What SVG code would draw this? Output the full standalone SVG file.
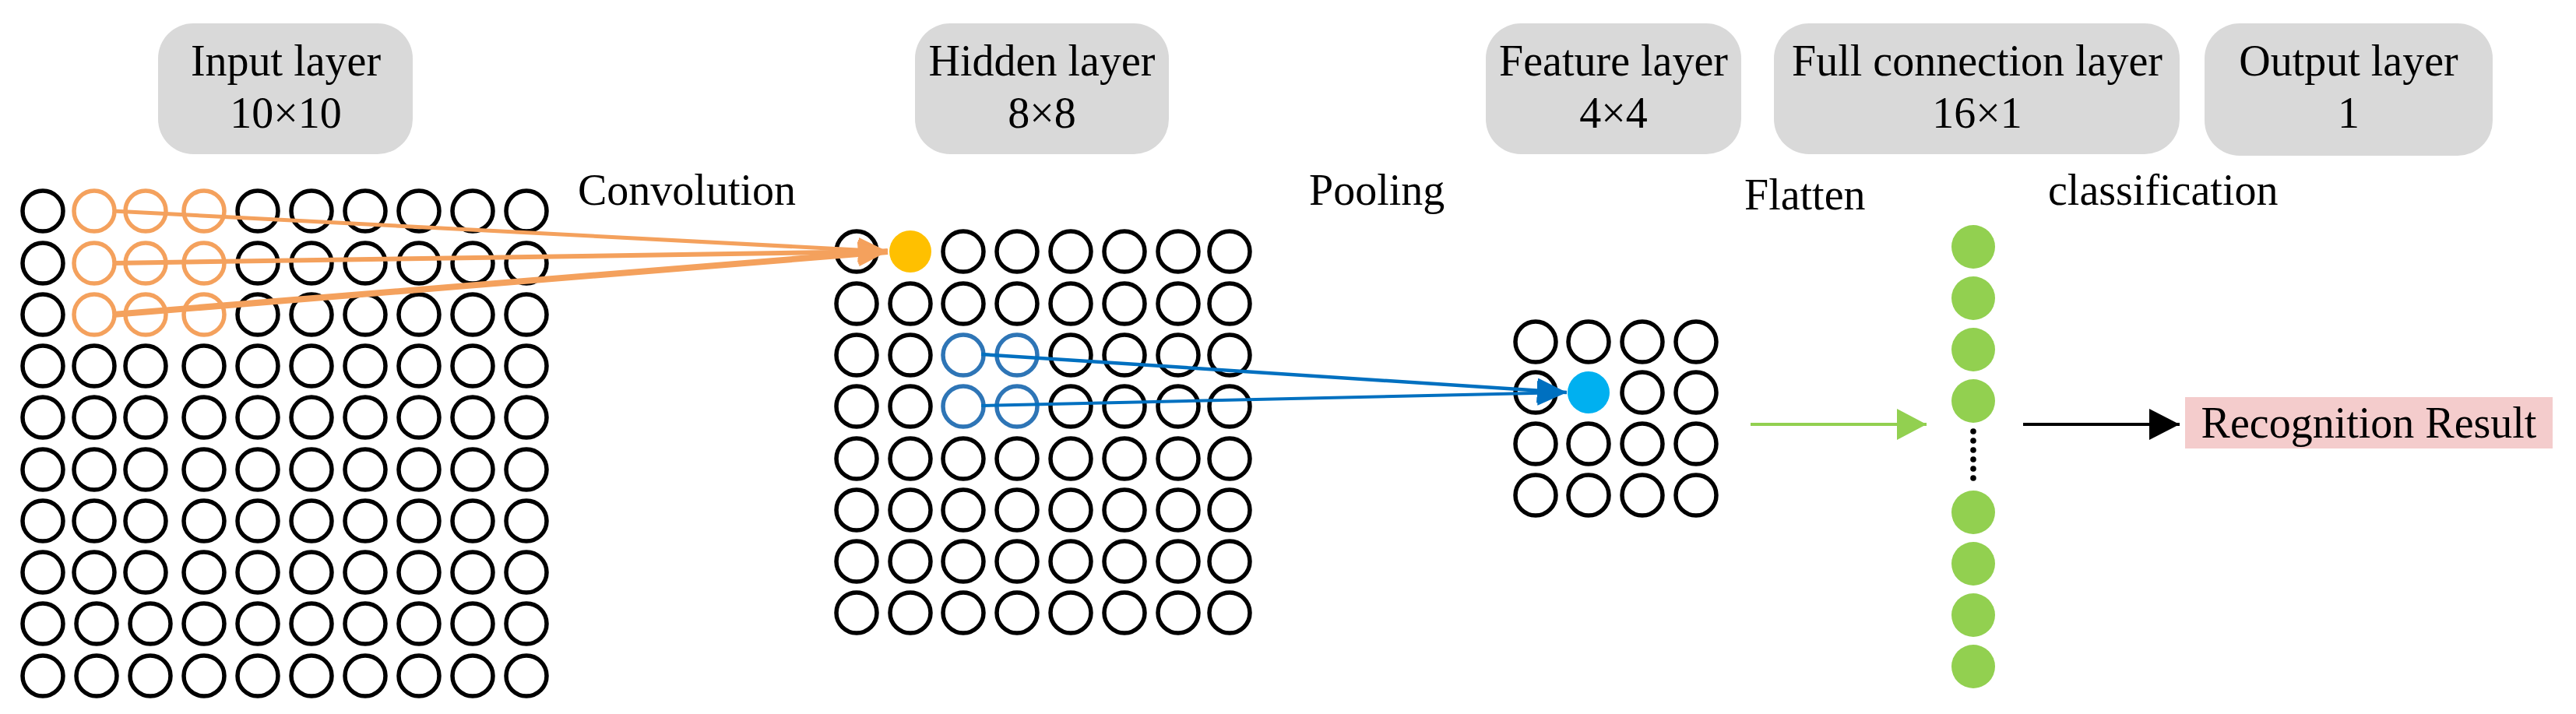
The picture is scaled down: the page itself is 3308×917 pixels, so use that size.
<svg xmlns="http://www.w3.org/2000/svg" width="3308" height="917" viewBox="0 0 3308 917">
<style>
.hdr{fill:#D9D9D9}
.t{font-family:"Liberation Serif","Times New Roman",serif;font-size:56px;fill:#000}
.c{fill:none;stroke:#000;stroke-width:5.5}
.co{fill:none;stroke:#F4A15D;stroke-width:5.5}
.cb{fill:none;stroke:#2E75B6;stroke-width:5.5}
.g{fill:#92D050}
</style>
<defs>
<marker id="ao" markerUnits="userSpaceOnUse" markerWidth="40" markerHeight="32" refX="38" refY="16" orient="auto"><path d="M0,0 L38,16 L0,32 Z" fill="#F4A15D"/></marker>
<marker id="ab" markerUnits="userSpaceOnUse" markerWidth="40" markerHeight="32" refX="38" refY="16" orient="auto"><path d="M0,0 L38,16 L0,32 Z" fill="#0070C0"/></marker>
<marker id="ag" markerUnits="userSpaceOnUse" markerWidth="40" markerHeight="40" refX="38" refY="20" orient="auto"><path d="M0,0 L38,20 L0,40 Z" fill="#92D050"/></marker>
<marker id="ak" markerUnits="userSpaceOnUse" markerWidth="40" markerHeight="40" refX="39" refY="20" orient="auto"><path d="M0,0 L39,20 L0,40 Z" fill="#000"/></marker>
</defs>

<g id="hdr-input"><rect class="hdr" x="203" y="30" width="327" height="168" rx="45"/><text class="t" x="367" y="97" text-anchor="middle">Input layer</text><text class="t" x="367" y="164" text-anchor="middle">10×10</text></g>
<g id="hdr-hidden"><rect class="hdr" x="1175" y="30" width="326" height="168" rx="45"/><text class="t" x="1338" y="97" text-anchor="middle">Hidden layer</text><text class="t" x="1338" y="164" text-anchor="middle">8×8</text></g>
<g id="hdr-feature"><rect class="hdr" x="1908" y="30" width="328" height="168" rx="45"/><text class="t" x="2072" y="97" text-anchor="middle">Feature layer</text><text class="t" x="2072" y="164" text-anchor="middle">4×4</text></g>
<g id="hdr-full"><rect class="hdr" x="2278" y="30" width="521" height="168" rx="45"/><text class="t" x="2539" y="97" text-anchor="middle">Full connection layer</text><text class="t" x="2539" y="164" text-anchor="middle">16×1</text></g>
<g id="hdr-output"><rect class="hdr" x="2831" y="30" width="370" height="170" rx="45"/><text class="t" x="3016" y="97" text-anchor="middle">Output layer</text><text class="t" x="3016" y="164" text-anchor="middle">1</text></g>

<g id="labels">
<text class="t" x="742" y="263">Convolution</text>
<text class="t" x="1681" y="263">Pooling</text>
<text class="t" x="2240" y="269">Flatten</text>
<text class="t" x="2630" y="263">classification</text>
</g>

<g id="input-grid">
<circle class="c" cx="55" cy="271" r="26"/><circle class="co" cx="121" cy="271" r="26"/><circle class="co" cx="187" cy="271" r="26"/><circle class="co" cx="262" cy="271" r="26"/><circle class="c" cx="331" cy="271" r="26"/><circle class="c" cx="400" cy="271" r="26"/><circle class="c" cx="469" cy="271" r="26"/><circle class="c" cx="538" cy="271" r="26"/><circle class="c" cx="607" cy="271" r="26"/><circle class="c" cx="676" cy="271" r="26"/>
<circle class="c" cx="55" cy="338" r="26"/><circle class="co" cx="121" cy="338" r="26"/><circle class="co" cx="187" cy="338" r="26"/><circle class="co" cx="262" cy="338" r="26"/><circle class="c" cx="331" cy="338" r="26"/><circle class="c" cx="400" cy="338" r="26"/><circle class="c" cx="469" cy="338" r="26"/><circle class="c" cx="538" cy="338" r="26"/><circle class="c" cx="607" cy="338" r="26"/><circle class="c" cx="676" cy="338" r="26"/>
<circle class="c" cx="55" cy="404" r="26"/><circle class="co" cx="121" cy="404" r="26"/><circle class="co" cx="187" cy="404" r="26"/><circle class="co" cx="262" cy="404" r="26"/><circle class="c" cx="331" cy="404" r="26"/><circle class="c" cx="400" cy="404" r="26"/><circle class="c" cx="469" cy="404" r="26"/><circle class="c" cx="538" cy="404" r="26"/><circle class="c" cx="607" cy="404" r="26"/><circle class="c" cx="676" cy="404" r="26"/>
<circle class="c" cx="55" cy="470" r="26"/><circle class="c" cx="121" cy="470" r="26"/><circle class="c" cx="187" cy="470" r="26"/><circle class="c" cx="262" cy="470" r="26"/><circle class="c" cx="331" cy="470" r="26"/><circle class="c" cx="400" cy="470" r="26"/><circle class="c" cx="469" cy="470" r="26"/><circle class="c" cx="538" cy="470" r="26"/><circle class="c" cx="607" cy="470" r="26"/><circle class="c" cx="676" cy="470" r="26"/>
<circle class="c" cx="55" cy="536" r="26"/><circle class="c" cx="121" cy="536" r="26"/><circle class="c" cx="187" cy="536" r="26"/><circle class="c" cx="262" cy="536" r="26"/><circle class="c" cx="331" cy="536" r="26"/><circle class="c" cx="400" cy="536" r="26"/><circle class="c" cx="469" cy="536" r="26"/><circle class="c" cx="538" cy="536" r="26"/><circle class="c" cx="607" cy="536" r="26"/><circle class="c" cx="676" cy="536" r="26"/>
<circle class="c" cx="55" cy="603" r="26"/><circle class="c" cx="121" cy="603" r="26"/><circle class="c" cx="187" cy="603" r="26"/><circle class="c" cx="262" cy="603" r="26"/><circle class="c" cx="331" cy="603" r="26"/><circle class="c" cx="400" cy="603" r="26"/><circle class="c" cx="469" cy="603" r="26"/><circle class="c" cx="538" cy="603" r="26"/><circle class="c" cx="607" cy="603" r="26"/><circle class="c" cx="676" cy="603" r="26"/>
<circle class="c" cx="55" cy="669" r="26"/><circle class="c" cx="121" cy="669" r="26"/><circle class="c" cx="187" cy="669" r="26"/><circle class="c" cx="262" cy="669" r="26"/><circle class="c" cx="331" cy="669" r="26"/><circle class="c" cx="400" cy="669" r="26"/><circle class="c" cx="469" cy="669" r="26"/><circle class="c" cx="538" cy="669" r="26"/><circle class="c" cx="607" cy="669" r="26"/><circle class="c" cx="676" cy="669" r="26"/>
<circle class="c" cx="55" cy="735" r="26"/><circle class="c" cx="121" cy="735" r="26"/><circle class="c" cx="187" cy="735" r="26"/><circle class="c" cx="262" cy="735" r="26"/><circle class="c" cx="331" cy="735" r="26"/><circle class="c" cx="400" cy="735" r="26"/><circle class="c" cx="469" cy="735" r="26"/><circle class="c" cx="538" cy="735" r="26"/><circle class="c" cx="607" cy="735" r="26"/><circle class="c" cx="676" cy="735" r="26"/>
<circle class="c" cx="55" cy="801" r="26"/><circle class="c" cx="124" cy="801" r="26"/><circle class="c" cx="193" cy="801" r="26"/><circle class="c" cx="262" cy="801" r="26"/><circle class="c" cx="331" cy="801" r="26"/><circle class="c" cx="400" cy="801" r="26"/><circle class="c" cx="469" cy="801" r="26"/><circle class="c" cx="538" cy="801" r="26"/><circle class="c" cx="607" cy="801" r="26"/><circle class="c" cx="676" cy="801" r="26"/>
<circle class="c" cx="55" cy="868" r="26"/><circle class="c" cx="124" cy="868" r="26"/><circle class="c" cx="193" cy="868" r="26"/><circle class="c" cx="262" cy="868" r="26"/><circle class="c" cx="331" cy="868" r="26"/><circle class="c" cx="400" cy="868" r="26"/><circle class="c" cx="469" cy="868" r="26"/><circle class="c" cx="538" cy="868" r="26"/><circle class="c" cx="607" cy="868" r="26"/><circle class="c" cx="676" cy="868" r="26"/>
</g>

<g id="hidden-grid">
<circle class="c" cx="1100" cy="323" r="26"/><circle cx="1169" cy="323" r="27" fill="#FFC000"/><circle class="c" cx="1237" cy="323" r="26"/><circle class="c" cx="1306" cy="323" r="26"/><circle class="c" cx="1375" cy="323" r="26"/><circle class="c" cx="1444" cy="323" r="26"/><circle class="c" cx="1513" cy="323" r="26"/><circle class="c" cx="1579" cy="323" r="26"/>
<circle class="c" cx="1100" cy="390" r="26"/><circle class="c" cx="1169" cy="390" r="26"/><circle class="c" cx="1237" cy="390" r="26"/><circle class="c" cx="1306" cy="390" r="26"/><circle class="c" cx="1375" cy="390" r="26"/><circle class="c" cx="1444" cy="390" r="26"/><circle class="c" cx="1513" cy="390" r="26"/><circle class="c" cx="1579" cy="390" r="26"/>
<circle class="c" cx="1100" cy="456" r="26"/><circle class="c" cx="1169" cy="456" r="26"/><circle class="cb" cx="1237" cy="456" r="26"/><circle class="cb" cx="1306" cy="456" r="26"/><circle class="c" cx="1375" cy="456" r="26"/><circle class="c" cx="1444" cy="456" r="26"/><circle class="c" cx="1513" cy="456" r="26"/><circle class="c" cx="1579" cy="456" r="26"/>
<circle class="c" cx="1100" cy="522" r="26"/><circle class="c" cx="1169" cy="522" r="26"/><circle class="cb" cx="1237" cy="522" r="26"/><circle class="cb" cx="1306" cy="522" r="26"/><circle class="c" cx="1375" cy="522" r="26"/><circle class="c" cx="1444" cy="522" r="26"/><circle class="c" cx="1513" cy="522" r="26"/><circle class="c" cx="1579" cy="522" r="26"/>
<circle class="c" cx="1100" cy="589" r="26"/><circle class="c" cx="1169" cy="589" r="26"/><circle class="c" cx="1237" cy="589" r="26"/><circle class="c" cx="1306" cy="589" r="26"/><circle class="c" cx="1375" cy="589" r="26"/><circle class="c" cx="1444" cy="589" r="26"/><circle class="c" cx="1513" cy="589" r="26"/><circle class="c" cx="1579" cy="589" r="26"/>
<circle class="c" cx="1100" cy="655" r="26"/><circle class="c" cx="1169" cy="655" r="26"/><circle class="c" cx="1237" cy="655" r="26"/><circle class="c" cx="1306" cy="655" r="26"/><circle class="c" cx="1375" cy="655" r="26"/><circle class="c" cx="1444" cy="655" r="26"/><circle class="c" cx="1513" cy="655" r="26"/><circle class="c" cx="1579" cy="655" r="26"/>
<circle class="c" cx="1100" cy="721" r="26"/><circle class="c" cx="1169" cy="721" r="26"/><circle class="c" cx="1237" cy="721" r="26"/><circle class="c" cx="1306" cy="721" r="26"/><circle class="c" cx="1375" cy="721" r="26"/><circle class="c" cx="1444" cy="721" r="26"/><circle class="c" cx="1513" cy="721" r="26"/><circle class="c" cx="1579" cy="721" r="26"/>
<circle class="c" cx="1100" cy="787" r="26"/><circle class="c" cx="1169" cy="787" r="26"/><circle class="c" cx="1237" cy="787" r="26"/><circle class="c" cx="1306" cy="787" r="26"/><circle class="c" cx="1375" cy="787" r="26"/><circle class="c" cx="1444" cy="787" r="26"/><circle class="c" cx="1513" cy="787" r="26"/><circle class="c" cx="1579" cy="787" r="26"/>
</g>

<g id="feature-grid">
<circle class="c" cx="1972" cy="439" r="26"/><circle class="c" cx="2040" cy="439" r="26"/><circle class="c" cx="2109" cy="439" r="26"/><circle class="c" cx="2178" cy="439" r="26"/>
<circle class="c" cx="1972" cy="504" r="26"/><circle cx="2040" cy="504" r="27" fill="#00B0F0"/><circle class="c" cx="2109" cy="504" r="26"/><circle class="c" cx="2178" cy="504" r="26"/>
<circle class="c" cx="1972" cy="570" r="26"/><circle class="c" cx="2040" cy="570" r="26"/><circle class="c" cx="2109" cy="570" r="26"/><circle class="c" cx="2178" cy="570" r="26"/>
<circle class="c" cx="1972" cy="636" r="26"/><circle class="c" cx="2040" cy="636" r="26"/><circle class="c" cx="2109" cy="636" r="26"/><circle class="c" cx="2178" cy="636" r="26"/>
</g>

<g id="full-layer">
<circle class="g" cx="2534" cy="317" r="28"/><circle class="g" cx="2534" cy="383" r="28"/><circle class="g" cx="2534" cy="449" r="28"/><circle class="g" cx="2534" cy="515" r="28"/>
<circle cx="2534" cy="554" r="3.8"/><circle cx="2534" cy="566" r="3.8"/><circle cx="2534" cy="578" r="3.8"/><circle cx="2534" cy="590" r="3.8"/><circle cx="2534" cy="602" r="3.8"/><circle cx="2534" cy="614" r="3.8"/>
<circle class="g" cx="2534" cy="658" r="28"/><circle class="g" cx="2534" cy="724" r="28"/><circle class="g" cx="2534" cy="790" r="28"/><circle class="g" cx="2534" cy="856" r="28"/>
</g>

<g id="result"><rect x="2806" y="510" width="472" height="66" fill="#F4CCCC"/><text class="t" x="3042" y="562" text-anchor="middle">Recognition Result</text></g>

<g id="connectors">
<line x1="145" y1="271" x2="1140" y2="323" stroke="#F4A15D" stroke-width="5" marker-end="url(#ao)"/>
<line x1="145" y1="338" x2="1140" y2="323" stroke="#F4A15D" stroke-width="6" marker-end="url(#ao)"/>
<line x1="145" y1="404" x2="1140" y2="323" stroke="#F4A15D" stroke-width="8" marker-end="url(#ao)"/>
<line x1="1260" y1="455" x2="2012" y2="504" stroke="#0070C0" stroke-width="4.5" marker-end="url(#ab)"/>
<line x1="1260" y1="521" x2="2012" y2="504" stroke="#0070C0" stroke-width="4" marker-end="url(#ab)"/>
<line x1="2248" y1="545" x2="2474" y2="545" stroke="#92D050" stroke-width="4" marker-end="url(#ag)"/>
<line x1="2598" y1="545" x2="2799" y2="545" stroke="#000" stroke-width="4" marker-end="url(#ak)"/>
</g>
</svg>
